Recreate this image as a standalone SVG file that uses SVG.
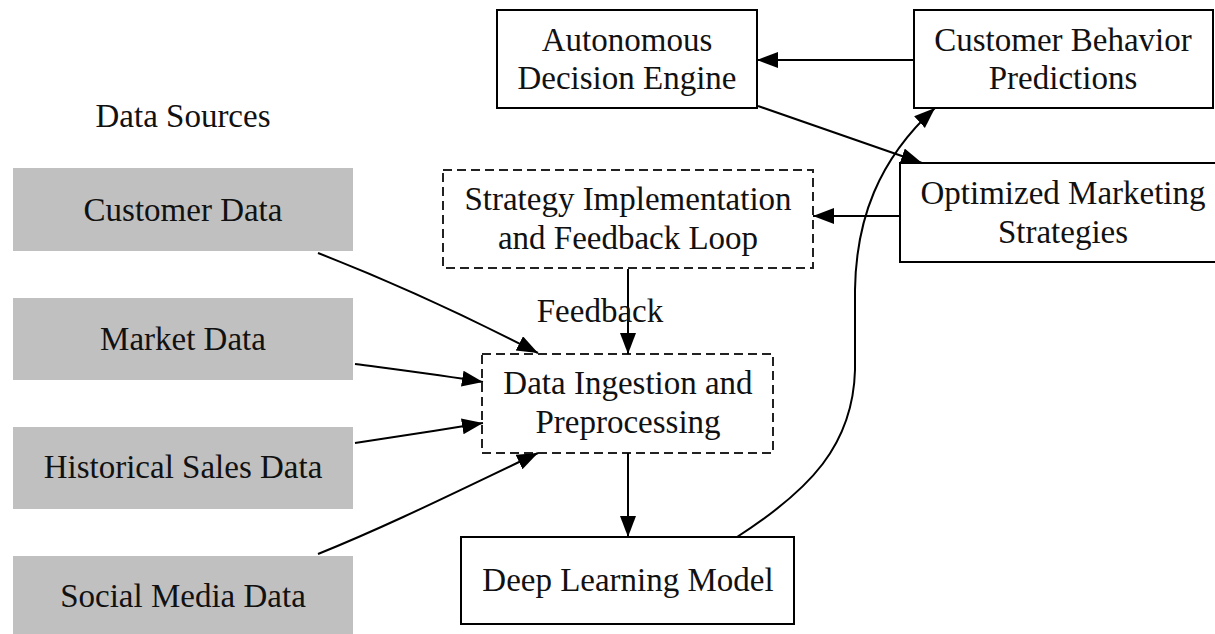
<svg xmlns="http://www.w3.org/2000/svg" width="1215" height="634" viewBox="0 0 1215 634">
  <style>
    text { font-family: "Liberation Serif", "Times New Roman", serif; font-size: 33px; fill: #111; text-anchor: middle; }
    .src rect { fill: #c0c0c0; stroke: none; }
    .box rect { fill: #fff; stroke: #000; stroke-width: 2; }
    .dash rect { fill: #fff; stroke: #222; stroke-width: 2; stroke-dasharray: 9 5; }
    .edges path { fill: none; stroke: #000; stroke-width: 2; marker-end: url(#arrow); }
  </style>
  <defs>
    <marker id="arrow" markerUnits="userSpaceOnUse" markerWidth="24" markerHeight="18" refX="21" refY="8" orient="auto">
      <path d="M0,0 L21,8 L0,16 z" fill="#000"/>
    </marker>
  </defs>
  <rect width="1215" height="634" fill="#fff"/>

  <!-- source cluster -->
  <g id="cluster-sources">
    <text x="183" y="127">Data Sources</text>
  </g>
  <g id="customer-data" class="src">
    <rect x="13" y="168" width="340" height="83"/>
    <text x="183" y="221">Customer Data</text>
  </g>
  <g id="market-data" class="src">
    <rect x="13" y="298" width="340" height="82"/>
    <text x="183" y="350">Market Data</text>
  </g>
  <g id="historical-sales" class="src">
    <rect x="13" y="427" width="340" height="82"/>
    <text x="183" y="478">Historical Sales Data</text>
  </g>
  <g id="social-media" class="src">
    <rect x="13" y="556" width="340" height="90"/>
    <text x="183" y="607">Social Media Data</text>
  </g>

  <!-- processing nodes -->
  <g id="ingestion" class="dash">
    <rect x="482" y="354" width="291" height="99"/>
    <text x="628" y="394">Data Ingestion and</text>
    <text x="628" y="433">Preprocessing</text>
  </g>
  <g id="strategy-loop" class="dash">
    <rect x="443" y="170" width="370" height="98"/>
    <text x="628" y="210">Strategy Implementation</text>
    <text x="628" y="249">and Feedback Loop</text>
  </g>
  <g id="deep-learning" class="box">
    <rect x="461" y="537" width="333" height="87"/>
    <text x="628" y="591">Deep Learning Model</text>
  </g>
  <g id="decision-engine" class="box">
    <rect x="497" y="10" width="260" height="98"/>
    <text x="627" y="51">Autonomous</text>
    <text x="627" y="89">Decision Engine</text>
  </g>
  <g id="behavior-predictions" class="box">
    <rect x="914" y="10" width="299" height="98"/>
    <text x="1063" y="51">Customer Behavior</text>
    <text x="1063" y="89">Predictions</text>
  </g>
  <g id="optimized-strategies" class="box">
    <rect x="900" y="163" width="330" height="99"/>
    <text x="1063" y="204">Optimized Marketing</text>
    <text x="1063" y="243">Strategies</text>
  </g>

  <!-- connectors -->
  <g id="edges" class="edges">
    <path d="M318,253 C400,285 470,318 538,353"/>
    <path d="M355,364 C400,370 440,375 483,382"/>
    <path d="M355,443 C400,436 440,430 483,423"/>
    <path d="M318,554 C390,525 460,490 538,453"/>
    <path d="M628,269 L628,354"/>
    <path d="M628,453 L628,537"/>
    <path d="M737,537 C810,490 853,445 855,370 L855,290 C856,220 878,160 935,108"/>
    <path d="M914,60 L757,60"/>
    <path d="M758,106 L922,163"/>
    <path d="M900,216 L813,216"/>
  </g>
  <g id="edge-labels">
    <text x="600" y="322">Feedback</text>
  </g>
</svg>
